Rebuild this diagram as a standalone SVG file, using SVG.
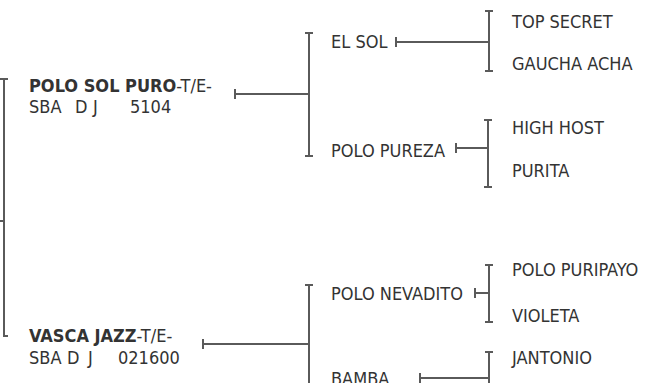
<svg xmlns="http://www.w3.org/2000/svg" width="646" height="383" viewBox="0 0 646 383">
<style>
text{font-family:"Liberation Sans Narrow","DejaVu Sans Condensed","Liberation Sans",sans-serif;font-size:18px;fill:#333}
.b{font-weight:bold}
.c{fill:none;stroke:#5a5a5a;stroke-width:2}
</style>
<rect width="646" height="383" fill="#fff"/>
<g id="connectors">
<path class="c" d="M0,79H8M4,79V336H8M-10,221H4"/>
<path class="c" d="M305,33H313M309,33V156M305,156H313M235,89V99M235,94H309"/>
<path class="c" d="M305,285H313M309,285V400M203,339V349M203,344H309"/>
<path class="c" d="M485,11H493M489,11V71M485,71H493M396,37V47M396,42H489"/>
<path class="c" d="M484,120H492M488,120V187M484,187H492M456,143V153M456,148H488"/>
<path class="c" d="M485,265H493M489,265V322M485,322H493M475,288V298M475,293H489"/>
<path class="c" d="M485,352H493M489,352V400M420,373V383M420,378H489"/>
</g>
<g id="n-polo-sol-puro"><text x="29" y="92"><tspan class="b">POLO SOL PURO</tspan>-T/E-</text><text y="113"><tspan x="29">SBA</tspan><tspan x="75">D</tspan><tspan x="93">J</tspan><tspan x="130">5104</tspan></text></g>
<g id="n-vasca-jazz"><text x="29" y="342"><tspan class="b">VASCA JAZZ</tspan>-T/E-</text><text y="364"><tspan x="29">SBA</tspan><tspan x="67">D</tspan><tspan x="88">J</tspan><tspan x="118">021600</tspan></text></g>
<g id="n-el-sol"><text x="331" y="48">EL SOL</text></g>
<g id="n-polo-pureza"><text x="331" y="157">POLO PUREZA</text></g>
<g id="n-polo-nevadito"><text x="331" y="300">POLO NEVADITO</text></g>
<g id="n-bamba"><text x="331" y="385">BAMBA</text></g>
<g id="n-top-secret"><text x="512" y="28">TOP SECRET</text></g>
<g id="n-gaucha-acha"><text x="512" y="70">GAUCHA ACHA</text></g>
<g id="n-high-host"><text x="512" y="134">HIGH HOST</text></g>
<g id="n-purita"><text x="512" y="177">PURITA</text></g>
<g id="n-polo-puripayo"><text x="512" y="276">POLO PURIPAYO</text></g>
<g id="n-violeta"><text x="512" y="322">VIOLETA</text></g>
<g id="n-jantonio"><text x="512" y="364">JANTONIO</text></g>
</svg>
